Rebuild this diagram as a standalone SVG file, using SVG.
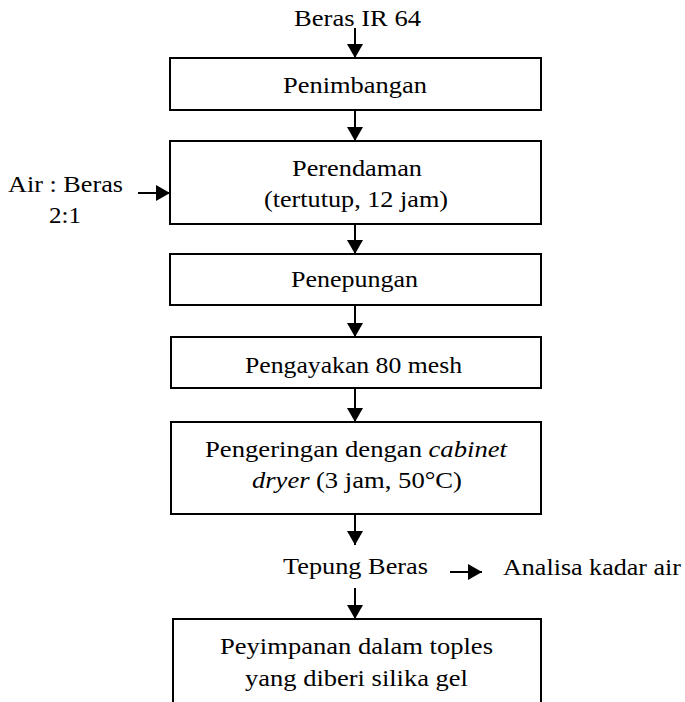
<svg xmlns="http://www.w3.org/2000/svg" width="685" height="702" viewBox="0 0 685 702">
<style>
  .t { font-family: "Liberation Serif", "DejaVu Serif", "Noto Serif", serif; font-size: 23px; fill: #000; }
  .i { font-style: italic; }
  .box { fill: #fff; stroke: #000; stroke-width: 2; }
  .ln { stroke: #000; stroke-width: 2; fill: none; marker-end: url(#ah); }
</style>
<defs>
  <marker id="ah" markerUnits="userSpaceOnUse" viewBox="0 0 14 16" markerWidth="14" markerHeight="16" refX="14" refY="8" orient="auto">
    <path d="M0,0 L14,8 L0,16 z" fill="#000"/>
  </marker>
</defs>
<rect width="685" height="702" fill="#fff"/>

<g id="input-beras">
  <text class="t" x="294" y="26" textLength="127" lengthAdjust="spacingAndGlyphs">Beras IR 64</text>
</g>

<g id="penimbangan">
  <rect class="box" x="170" y="58" width="371" height="52"/>
  <text class="t" x="283" y="93" textLength="144" lengthAdjust="spacingAndGlyphs">Penimbangan</text>
</g>

<g id="air-beras">
  <text class="t" x="8" y="192" textLength="115" lengthAdjust="spacingAndGlyphs">Air : Beras</text>
  <text class="t" x="49" y="223" textLength="32" lengthAdjust="spacingAndGlyphs">2:1</text>
</g>

<g id="perendaman">
  <rect class="box" x="170" y="141" width="371" height="83"/>
  <text class="t" x="292" y="176" textLength="130" lengthAdjust="spacingAndGlyphs">Perendaman</text>
  <text class="t" x="264" y="207" textLength="184" lengthAdjust="spacingAndGlyphs">(tertutup, 12 jam)</text>
</g>

<g id="penepungan">
  <rect class="box" x="170" y="254" width="371" height="51"/>
  <text class="t" x="291" y="287" textLength="127" lengthAdjust="spacingAndGlyphs">Penepungan</text>
</g>

<g id="pengayakan">
  <rect class="box" x="171" y="337" width="370" height="51"/>
  <text class="t" x="245" y="373" textLength="217" lengthAdjust="spacingAndGlyphs">Pengayakan 80 mesh</text>
</g>

<g id="pengeringan">
  <rect class="box" x="171" y="422" width="370" height="92"/>
  <text class="t" x="205" y="457" textLength="217" lengthAdjust="spacingAndGlyphs">Pengeringan dengan</text>
  <text class="t i" x="428.5" y="457" textLength="78.5" lengthAdjust="spacingAndGlyphs">cabinet</text>
  <text class="t i" x="252" y="488" textLength="57.5" lengthAdjust="spacingAndGlyphs">dryer</text>
  <text class="t" x="316" y="488" textLength="146" lengthAdjust="spacingAndGlyphs">(3 jam, 50°C)</text>
</g>

<g id="tepung-beras">
  <text class="t" x="283" y="574" textLength="145" lengthAdjust="spacingAndGlyphs">Tepung Beras</text>
</g>

<g id="analisa">
  <text class="t" x="503" y="575" textLength="178" lengthAdjust="spacingAndGlyphs">Analisa kadar air</text>
</g>

<g id="penyimpanan">
  <path d="M173,702 V619 H541 V702" fill="#fff" stroke="#000" stroke-width="2"/>
  <text class="t" x="220" y="654" textLength="273" lengthAdjust="spacingAndGlyphs">Peyimpanan dalam toples</text>
  <text class="t" x="245" y="686" textLength="223" lengthAdjust="spacingAndGlyphs">yang diberi silika gel</text>
</g>

<g id="connectors">
  <line class="ln" x1="355" y1="28" x2="355" y2="58"/>
  <line class="ln" x1="355" y1="110" x2="355" y2="141"/>
  <line class="ln" x1="138" y1="193" x2="170" y2="193"/>
  <line class="ln" x1="355" y1="224" x2="355" y2="254"/>
  <line class="ln" x1="355" y1="305" x2="355" y2="337"/>
  <line class="ln" x1="355" y1="388" x2="355" y2="422"/>
  <line class="ln" x1="355" y1="514" x2="355" y2="545"/>
  <line class="ln" x1="450" y1="572" x2="482" y2="572"/>
  <line class="ln" x1="355" y1="588" x2="355" y2="619"/>
</g>
</svg>
